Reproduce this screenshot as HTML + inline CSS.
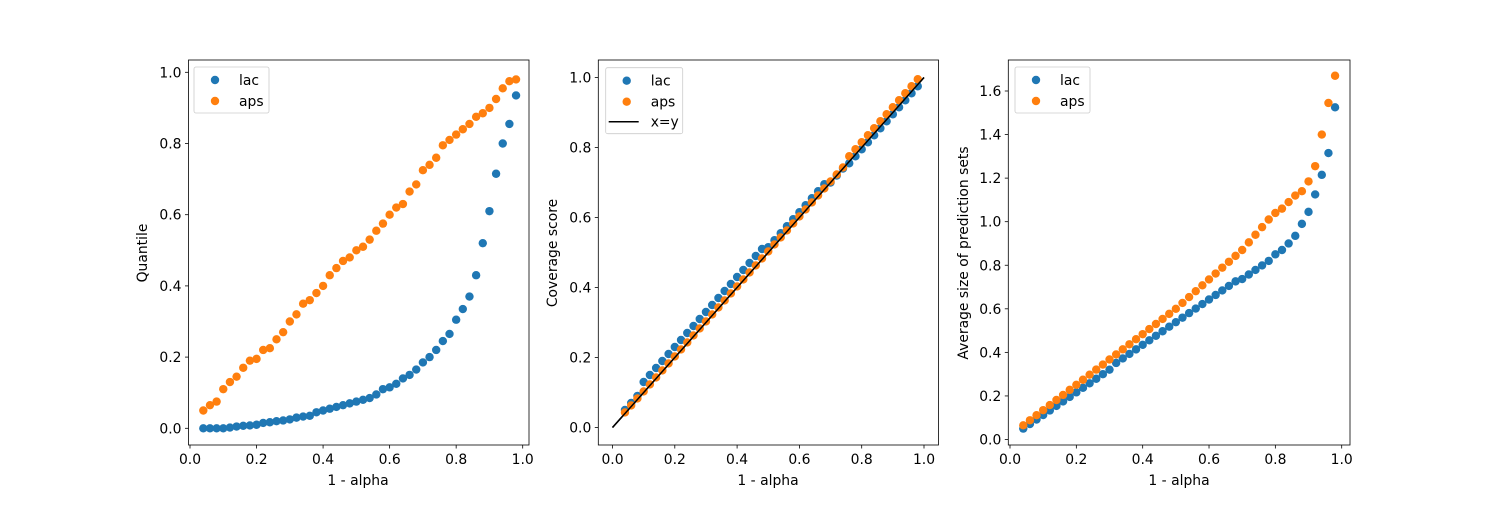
<!DOCTYPE html>
<html><head><meta charset="utf-8"><style>
body{margin:0;background:#fff}
svg text{font-family:"DejaVu Sans","Liberation Sans",sans-serif;font-size:13.9px;fill:#000}
</style></head><body>
<svg id="s" width="1500" height="500" xmlns="http://www.w3.org/2000/svg">
<rect width="1500" height="500" fill="#fff"/>
<g id="g"></g>
<!-- axis labels -->
<text x="358" y="485" text-anchor="middle">1 - alpha</text>
<text x="768" y="485" text-anchor="middle">1 - alpha</text>
<text x="1179" y="485" text-anchor="middle">1 - alpha</text>
<text transform="translate(147,253) rotate(-90)" text-anchor="middle">Quantile</text>
<text transform="translate(557,253) rotate(-90)" text-anchor="middle">Coverage score</text>
<text transform="translate(968,253) rotate(-90)" text-anchor="middle">Average size of prediction sets</text>
</svg>
<script>
const B='#1f77b4',O='#ff7f0e';
const xs=[];for(let i=0;i<48;i++)xs.push(0.04+0.02*i);
const a1=[.05,.065,.075,.11,.13,.145,.17,.19,.195,.22,.225,.25,.27,.30,.32,.35,.36,.38,.40,.43,.45,.47,.48,.50,.51,.53,.555,.575,.60,.62,.63,.665,.685,.725,.74,.76,.795,.81,.825,.84,.855,.875,.885,.90,.925,.955,.975,.98];
const l1=[0,0,0,0,.002,.005,.007,.008,.01,.015,.017,.02,.022,.025,.03,.033,.035,.045,.05,.055,.06,.065,.07,.075,.08,.085,.095,.11,.115,.125,.14,.15,.165,.185,.2,.22,.245,.265,.305,.335,.37,.43,.52,.61,.715,.80,.855,.935];
const l2=xs.map(x=>{let d=x<0.1?0.01:(x<0.5?0.03:(x<0.7?0.015:0.0));return x+d-(x>0.75?0.005:0)});
const a2=xs.map(x=>x+(x<0.75?0.0:0.012)+0.003);
const l3=[],a3=[];
const l3t=[.85,.87,.9,.935,.99,1.045,1.125,1.215,1.315,1.525];
const a3t=[1.04,1.06,1.09,1.12,1.14,1.185,1.255,1.40,1.545,1.67];
xs.forEach((x,i)=>{
 if(i<38){l3.push(0.05+(x-0.04)*(0.82-0.05)/(0.78-0.04)+(x>0.3&&x<0.7?0.01:0));
  let a=0.065+(x-0.04)*(0.6-0.065)/(0.5-0.04); if(x>0.5)a=0.6+(x-0.5)*(0.87-0.6)/0.2; if(x>0.7)a=0.87+(x-0.7)*(1.01-0.87)/0.08; a3.push(a);}
 else{l3.push(l3t[i-38]);a3.push(a3t[i-38]);}
});
const ax=[
 {L:188.5,R:529,x0:190,x1:522.7,y0:428.3,y1:72.3,yt:[0,.2,.4,.6,.8,1],yu:1,s:[[l1,B],[a1,O]],leg:[194,67,75,46,0]},
 {L:598.3,R:938.5,x0:612.5,x1:924,y0:427.5,y1:77.5,yt:[0,.2,.4,.6,.8,1],yu:1,s:[[l2,B],[a2,O]],leg:[605.7,67.7,77,66,1]},
 {L:1008.3,R:1350,x0:1010,x1:1341.7,y0:439.5,y1:91,yt:[0,.2,.4,.6,.8,1,1.2,1.4,1.6],yu:1.6,s:[[l3,B],[a3,O]],leg:[1015,67,75,46,0]}
];
let h='';
ax.forEach(a=>{
 const X=v=>a.x0+(a.x1-a.x0)*v, Y=v=>a.y0+(a.y1-a.y0)*v/a.yu;
 [0,.2,.4,.6,.8,1].forEach(t=>{const x=X(t);h+=`<line x1="${x}" x2="${x}" y1="445" y2="448.5" stroke="#000" stroke-width="0.8"/><text x="${x}" y="464" text-anchor="middle">${t.toFixed(1)}</text>`});
 a.yt.forEach(t=>{const y=Y(t);h+=`<line x1="${a.L}" x2="${a.L-3.5}" y1="${y}" y2="${y}" stroke="#000" stroke-width="0.8"/><text x="${a.L-7}" y="${y+5}" text-anchor="end">${t.toFixed(1)}</text>`});
 if(a.leg[4])h+=`<line x1="${X(0)}" y1="${Y(0)}" x2="${X(1)}" y2="${Y(1)}" stroke="#000" stroke-width="1.5"/>`;
 a.s.forEach(([d,c])=>{xs.forEach((x,i)=>{h+=`<circle cx="${X(x)}" cy="${Y(d[i])}" r="4.2" fill="${c}"/>`})});
 if(a.leg[4])h+=`<line x1="${X(0)}" y1="${Y(0)}" x2="${X(1)}" y2="${Y(1)}" stroke="#000" stroke-width="1.5"/>`;
 h+=`<rect x="${a.L}" y="60" width="${a.R-a.L}" height="385" fill="none" stroke="#000" stroke-width="0.8"/>`;
 const [lx,ly,lw,lh,l3]=a.leg;
 h+=`<rect x="${lx}" y="${ly}" width="${lw}" height="${lh}" rx="2" fill="#fff" fill-opacity="0.8" stroke="#ccc" stroke-width="0.8"/>`;
 h+=`<circle cx="${lx+21}" cy="${ly+13}" r="4.2" fill="${B}"/><text x="${lx+45}" y="${ly+18}">lac</text>`;
 h+=`<circle cx="${lx+21}" cy="${ly+34}" r="4.2" fill="${O}"/><text x="${lx+45}" y="${ly+39}">aps</text>`;
 if(l3)h+=`<line x1="${lx+3}" x2="${lx+33}" y1="${ly+54}" y2="${ly+54}" stroke="#000" stroke-width="1.5"/><text x="${lx+45}" y="${ly+59}">x=y</text>`;
});
document.getElementById('g').innerHTML=h;
</script>
</body></html>
